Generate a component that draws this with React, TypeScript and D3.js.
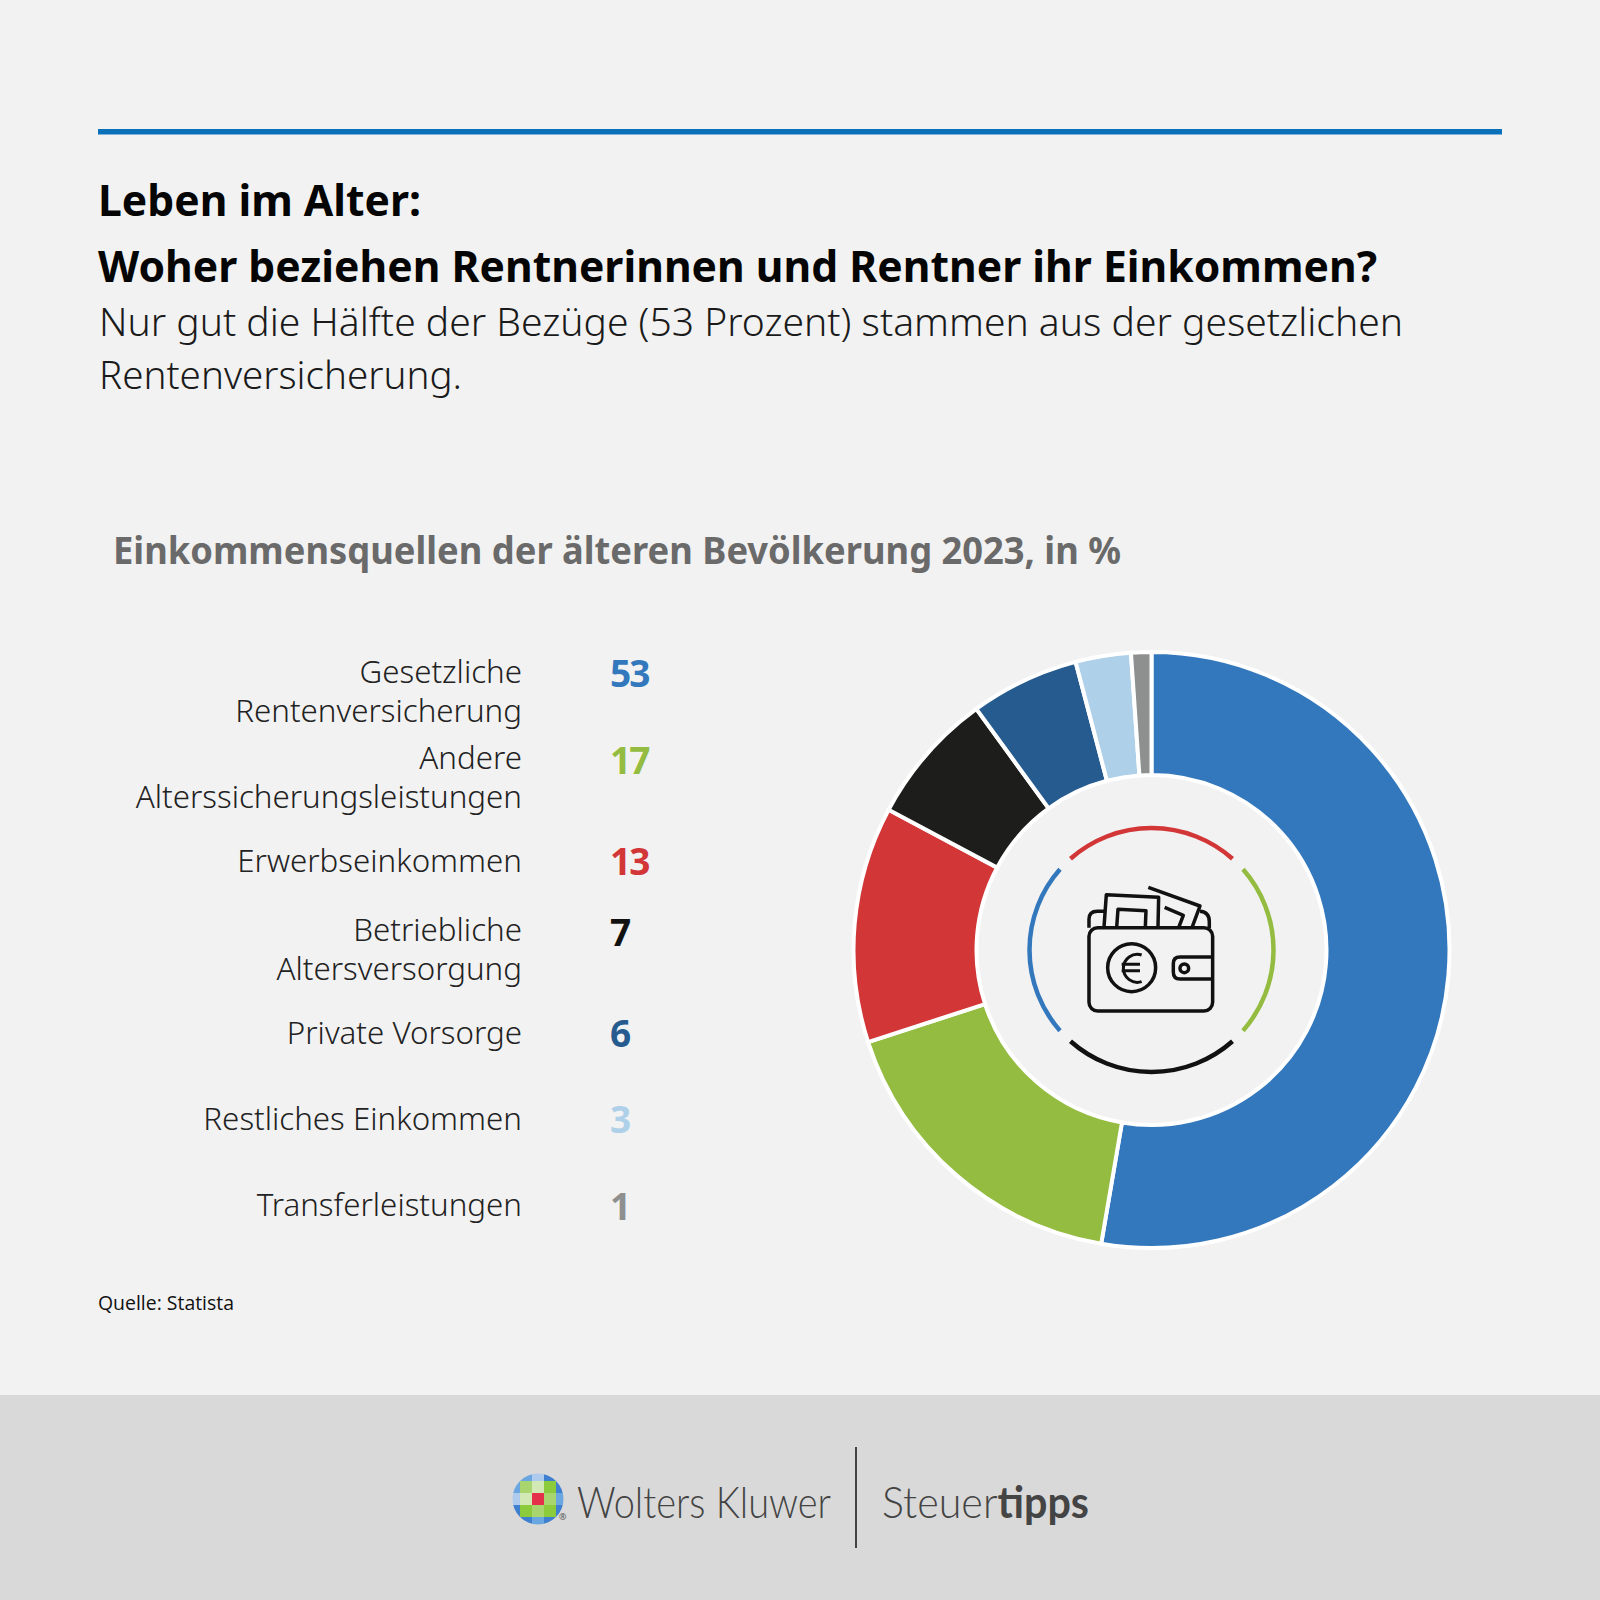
import { useMemo } from 'react';
import * as d3 from 'd3';

const categories = [
  ['Gesetzliche', 'Rentenversicherung'],
  ['Andere', 'Alterssicherungsleistungen'],
  ['Erwerbseinkommen'],
  ['Betriebliche', 'Altersversorgung'],
  ['Private Vorsorge'],
  ['Restliches Einkommen'],
  ['Transferleistungen'],
];
// printed labels
const values = [53, 17, 13, 7, 6, 3, 1];
// slice sizes as measured on the donut, they differ a little from the rounded labels
const sliceShares = [52.7, 17.3, 12.8, 7.2, 5.9, 3, 1.1];
const colors = ['#3378bd', '#93bc41', '#d23637', '#1d1d1b', '#255b8f', '#aed0e9', '#8e8f8f'];
const valueColors = ['#3378bd', '#93bc41', '#d23637', '#111111', '#255b8f', '#aed0e9', '#8e8f8f'];
const labelY = [683, 769, 872, 941, 1044, 1130, 1216];
const numberY = [687, 774, 875, 946, 1047, 1133, 1220];

const ringArcs = [
  { start: -41.6, end: 41.6, color: '#d23637' },
  { start: 48.6, end: 131.4, color: '#93bc41' },
  { start: 138.4, end: 221.6, color: '#111111' },
  { start: 228.6, end: 311.4, color: '#3378bd' },
];

const logoCells = [
  ['#3f7fd0', '#6aa6e0', '#aecbee', '#3f7fd0', '#3f7fd0'],
  ['#6aa6e0', '#a9d56e', '#d3e9b5', '#8ccb3c', '#3f7fd0'],
  ['#aecbee', '#d3e9b5', '#e5304a', '#a9d56e', '#6aa6e0'],
  ['#3f7fd0', '#8ccb3c', '#a9d56e', '#8ccb3c', '#3f7fd0'],
  ['#3f7fd0', '#3f7fd0', '#6aa6e0', '#3f7fd0', '#3f7fd0'],
];

const FONT = '"Noto Sans", sans-serif';
const cx = 1151.5;
const cy = 950;

export default function App() {
  const slices = useMemo(() => d3.pie<number>().sort(null).value((d) => d)(sliceShares), []);
  const arc = d3.arc<d3.PieArcDatum<number>>().innerRadius(175).outerRadius(298);
  const ring = d3.arc<any>().innerRadius(122).outerRadius(122);
  const cellScale = d3.scaleBand<number>().domain(d3.range(5)).range([-30, 30]);

  return (
    <svg
      width={1600}
      height={1600}
      style={{ position: 'absolute', left: 0, top: 0, display: 'block' }}
      fontFamily={FONT}
    >
      <rect width={1600} height={1600} fill="#f2f2f2" />
      <rect y={1395} width={1600} height={205} fill="#d9d9d9" />
      <rect x={98} y={129} width={1404} height={5.5} fill="#0a70b8" />

      <text x={98} y={216} fontSize={43} fontWeight={700} fill="#050505" textLength={323} lengthAdjust="spacingAndGlyphs">
        Leben im Alter:
      </text>
      <text x={98} y={282} fontSize={43} fontWeight={700} fill="#050505" textLength={1279} lengthAdjust="spacingAndGlyphs">
        Woher beziehen Rentnerinnen und Rentner ihr Einkommen?
      </text>
      <text x={99} y={336} fontSize={39} fontWeight={300} fill="#1a1a1a" textLength={1304} lengthAdjust="spacingAndGlyphs">
        Nur gut die Hälfte der Bezüge (53 Prozent) stammen aus der gesetzlichen
      </text>
      <text x={99} y={389} fontSize={39} fontWeight={300} fill="#1a1a1a" textLength={363} lengthAdjust="spacingAndGlyphs">
        Rentenversicherung.
      </text>
      <text x={113} y={564} fontSize={37} fontWeight={700} fill="#6a6a6a" textLength={1008} lengthAdjust="spacingAndGlyphs">
        Einkommensquellen der älteren Bevölkerung 2023, in %
      </text>

      {categories.map((lines, i) => (
        <text key={i} textAnchor="end" fontSize={31.3} fontWeight={300} fill="#222">
          {lines.map((line, j) => (
            <tspan key={j} x={522} y={labelY[i] + j * 39}>
              {line}
            </tspan>
          ))}
        </text>
      ))}
      {values.map((v, i) => (
        <text key={i} x={610} y={numberY[i]} fontSize={37} fontWeight={700} fill={valueColors[i]} letterSpacing={-2}>
          {v}
        </text>
      ))}

      <g transform={`translate(${cx},${cy})`}>
        {slices.map((s, i) => (
          <path key={i} d={arc(s) ?? ''} fill={colors[i]} stroke="#fff" strokeWidth={4} />
        ))}
        {ringArcs.map((a, i) => (
          <path
            key={i}
            d={ring({ startAngle: (a.start * Math.PI) / 180, endAngle: (a.end * Math.PI) / 180 }) ?? ''}
            fill="none"
            stroke={a.color}
            strokeWidth={4.5}
          />
        ))}
      </g>

      {/* wallet icon */}
      <g transform="translate(980,780) scale(0.3333)" fill="none" stroke="#111" strokeWidth={10.5} strokeLinejoin="round">
        <rect x={327} y={443} width={371} height={250} rx={26} />
        <path d="M327 443 V 418 Q 327 394 352 394 H 376" />
        <path d="M660 394 Q 688 396 688 425 V 445" />
        <path d="M372 443 L 379 344 L 536 352 L 534 443" />
        <path d="M410 443 L 414 388 L 498 392 L 496 443" />
        <path d="M505 322 L 660 378 L 636 443" />
        <path d="M554 382 L 610 406 L 596 443" />
        <circle cx={455} cy={563} r={72} />
        <path d="M485 525 A 42 42 0 1 0 485 605" strokeWidth={9} />
        <path d="M425 553 H 480 M 425 572 H 480" strokeWidth={9} />
        <path d="M696 531 H 600 Q 580 531 580 551 V 576 Q 580 597 600 597 H 696" />
        <circle cx={613} cy={565} r={13} />
      </g>

      <text x={98} y={1310} fontSize={20} fill="#111" fontFamily='"Open Sans", sans-serif' textLength={136} lengthAdjust="spacingAndGlyphs">
        Quelle: Statista
      </text>

      {/* footer logo */}
      <defs>
        <clipPath id="logo-clip">
          <circle r={25.5} />
        </clipPath>
      </defs>
      <g transform="translate(538,1499)" clipPath="url(#logo-clip)">
        {logoCells.map((row, r) =>
          row.map((c, k) => (
            <rect
              key={`${r}-${k}`}
              x={cellScale(k)}
              y={cellScale(r)}
              width={cellScale.bandwidth()}
              height={cellScale.bandwidth()}
              fill={c}
            />
          )),
        )}
      </g>
      <text x={559} y={1520} fontSize={9} fill="#555">®</text>
      <text x={577} y={1518} fontSize={43} fontWeight={300} fill="#444" fontFamily='"Lato", sans-serif' textLength={254} lengthAdjust="spacingAndGlyphs">
        Wolters Kluwer
      </text>
      <line x1={856} x2={856} y1={1447} y2={1548} stroke="#444" strokeWidth={2} />
      <text x={882} y={1518} fontSize={43} fontWeight={300} fill="#444" fontFamily='"Lato", sans-serif' textLength={207} lengthAdjust="spacingAndGlyphs">
        Steuer<tspan fontWeight={700}>tipps</tspan>
      </text>
    </svg>
  );
}
